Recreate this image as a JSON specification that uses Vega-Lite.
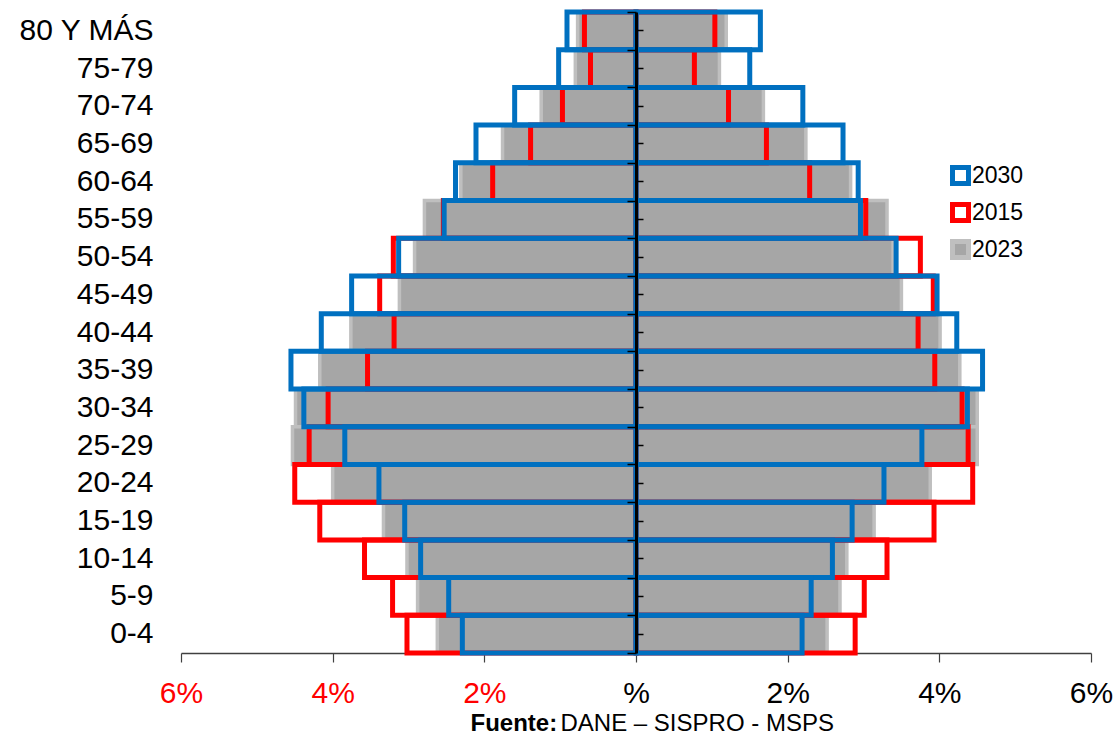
{
  "$schema": "https://vega.github.io/schema/vega-lite/v6.json",
  "width": 910,
  "height": 641,
  "autosize": {"type": "none"},
  "padding": {"left": 181, "top": 12, "right": 25, "bottom": 83},
  "background": "#FFFFFF",
  "data": {
    "values": [
      {"edad": "80 Y MÁS", "anio": "2023", "pct": -0.77}, {"edad": "80 Y MÁS", "anio": "2023", "pct": 1.19},
      {"edad": "75-79", "anio": "2023", "pct": -0.80}, {"edad": "75-79", "anio": "2023", "pct": 1.10},
      {"edad": "70-74", "anio": "2023", "pct": -1.25}, {"edad": "70-74", "anio": "2023", "pct": 1.68},
      {"edad": "65-69", "anio": "2023", "pct": -1.76}, {"edad": "65-69", "anio": "2023", "pct": 2.24},
      {"edad": "60-64", "anio": "2023", "pct": -2.31}, {"edad": "60-64", "anio": "2023", "pct": 2.83},
      {"edad": "55-59", "anio": "2023", "pct": -2.79}, {"edad": "55-59", "anio": "2023", "pct": 3.31},
      {"edad": "50-54", "anio": "2023", "pct": -2.92}, {"edad": "50-54", "anio": "2023", "pct": 3.39},
      {"edad": "45-49", "anio": "2023", "pct": -3.12}, {"edad": "45-49", "anio": "2023", "pct": 3.50},
      {"edad": "40-44", "anio": "2023", "pct": -3.76}, {"edad": "40-44", "anio": "2023", "pct": 4.01},
      {"edad": "35-39", "anio": "2023", "pct": -4.17}, {"edad": "35-39", "anio": "2023", "pct": 4.27},
      {"edad": "30-34", "anio": "2023", "pct": -4.49}, {"edad": "30-34", "anio": "2023", "pct": 4.50},
      {"edad": "25-29", "anio": "2023", "pct": -4.53}, {"edad": "25-29", "anio": "2023", "pct": 4.50},
      {"edad": "20-24", "anio": "2023", "pct": -4.00}, {"edad": "20-24", "anio": "2023", "pct": 3.88},
      {"edad": "15-19", "anio": "2023", "pct": -3.33}, {"edad": "15-19", "anio": "2023", "pct": 3.14},
      {"edad": "10-14", "anio": "2023", "pct": -3.02}, {"edad": "10-14", "anio": "2023", "pct": 2.78},
      {"edad": "5-9", "anio": "2023", "pct": -2.88}, {"edad": "5-9", "anio": "2023", "pct": 2.69},
      {"edad": "0-4", "anio": "2023", "pct": -2.62}, {"edad": "0-4", "anio": "2023", "pct": 2.52},

      {"edad": "80 Y MÁS", "anio": "2015", "pct": -0.68}, {"edad": "80 Y MÁS", "anio": "2015", "pct": 1.04},
      {"edad": "75-79", "anio": "2015", "pct": -0.60}, {"edad": "75-79", "anio": "2015", "pct": 0.77},
      {"edad": "70-74", "anio": "2015", "pct": -0.97}, {"edad": "70-74", "anio": "2015", "pct": 1.22},
      {"edad": "65-69", "anio": "2015", "pct": -1.39}, {"edad": "65-69", "anio": "2015", "pct": 1.72},
      {"edad": "60-64", "anio": "2015", "pct": -1.89}, {"edad": "60-64", "anio": "2015", "pct": 2.29},
      {"edad": "55-59", "anio": "2015", "pct": -2.54}, {"edad": "55-59", "anio": "2015", "pct": 3.03},
      {"edad": "50-54", "anio": "2015", "pct": -3.20}, {"edad": "50-54", "anio": "2015", "pct": 3.75},
      {"edad": "45-49", "anio": "2015", "pct": -3.38}, {"edad": "45-49", "anio": "2015", "pct": 3.92},
      {"edad": "40-44", "anio": "2015", "pct": -3.19}, {"edad": "40-44", "anio": "2015", "pct": 3.72},
      {"edad": "35-39", "anio": "2015", "pct": -3.54}, {"edad": "35-39", "anio": "2015", "pct": 3.94},
      {"edad": "30-34", "anio": "2015", "pct": -4.06}, {"edad": "30-34", "anio": "2015", "pct": 4.30},
      {"edad": "25-29", "anio": "2015", "pct": -4.31}, {"edad": "25-29", "anio": "2015", "pct": 4.38},
      {"edad": "20-24", "anio": "2015", "pct": -4.50}, {"edad": "20-24", "anio": "2015", "pct": 4.44},
      {"edad": "15-19", "anio": "2015", "pct": -4.17}, {"edad": "15-19", "anio": "2015", "pct": 3.93},
      {"edad": "10-14", "anio": "2015", "pct": -3.58}, {"edad": "10-14", "anio": "2015", "pct": 3.31},
      {"edad": "5-9", "anio": "2015", "pct": -3.21}, {"edad": "5-9", "anio": "2015", "pct": 3.01},
      {"edad": "0-4", "anio": "2015", "pct": -3.02}, {"edad": "0-4", "anio": "2015", "pct": 2.89},

      {"edad": "80 Y MÁS", "anio": "2030", "pct": -0.91}, {"edad": "80 Y MÁS", "anio": "2030", "pct": 1.64},
      {"edad": "75-79", "anio": "2030", "pct": -1.02}, {"edad": "75-79", "anio": "2030", "pct": 1.50},
      {"edad": "70-74", "anio": "2030", "pct": -1.60}, {"edad": "70-74", "anio": "2030", "pct": 2.20},
      {"edad": "65-69", "anio": "2030", "pct": -2.11}, {"edad": "65-69", "anio": "2030", "pct": 2.73},
      {"edad": "60-64", "anio": "2030", "pct": -2.38}, {"edad": "60-64", "anio": "2030", "pct": 2.93},
      {"edad": "55-59", "anio": "2030", "pct": -2.53}, {"edad": "55-59", "anio": "2030", "pct": 2.96},
      {"edad": "50-54", "anio": "2030", "pct": -3.13}, {"edad": "50-54", "anio": "2030", "pct": 3.43},
      {"edad": "45-49", "anio": "2030", "pct": -3.75}, {"edad": "45-49", "anio": "2030", "pct": 3.97},
      {"edad": "40-44", "anio": "2030", "pct": -4.15}, {"edad": "40-44", "anio": "2030", "pct": 4.23},
      {"edad": "35-39", "anio": "2030", "pct": -4.55}, {"edad": "35-39", "anio": "2030", "pct": 4.57},
      {"edad": "30-34", "anio": "2030", "pct": -4.38}, {"edad": "30-34", "anio": "2030", "pct": 4.37},
      {"edad": "25-29", "anio": "2030", "pct": -3.84}, {"edad": "25-29", "anio": "2030", "pct": 3.77},
      {"edad": "20-24", "anio": "2030", "pct": -3.39}, {"edad": "20-24", "anio": "2030", "pct": 3.27},
      {"edad": "15-19", "anio": "2030", "pct": -3.05}, {"edad": "15-19", "anio": "2030", "pct": 2.85},
      {"edad": "10-14", "anio": "2030", "pct": -2.84}, {"edad": "10-14", "anio": "2030", "pct": 2.59},
      {"edad": "5-9", "anio": "2030", "pct": -2.47}, {"edad": "5-9", "anio": "2030", "pct": 2.31},
      {"edad": "0-4", "anio": "2030", "pct": -2.29}, {"edad": "0-4", "anio": "2030", "pct": 2.19}
    ]
  },
  "resolve": {"axis": {"x": "independent", "y": "independent"}},
  "layer": [
    {
      "transform": [{"filter": "datum.anio == '2023'"}],
      "mark": {"type": "bar", "strokeWidth": 3.5, "strokeJoin": "miter"},
      "encoding": {
        "y": {
          "field": "edad", "type": "nominal",
          "scale": {"domain": ["80 Y MÁS", "75-79", "70-74", "65-69", "60-64", "55-59", "50-54", "45-49", "40-44", "35-39", "30-34", "25-29", "20-24", "15-19", "10-14", "5-9", "0-4"], "paddingInner": 0, "paddingOuter": 0},
          "axis": {"orient": "left", "title": null, "ticks": false, "domain": false, "grid": false, "labelPadding": 28, "labelFontSize": 30, "labelFont": "Liberation Sans", "labelColor": "#000000"}
        },
        "x": {
          "field": "pct", "type": "quantitative", "stack": null,
          "scale": {"domain": [-6, 6], "nice": false},
          "axis": {
            "orient": "bottom", "values": [-6, -4, -2, 0, 2, 4, 6],
            "labelExpr": "datum.value == 0 ? '%' : abs(datum.value) + '%'",
            "labelColor": {"condition": {"test": "datum.value < 0", "value": "#FF0000"}, "value": "#000000"},
            "labelFontSize": 30, "labelFont": "Liberation Sans", "labelPadding": 16,
            "labelFlush": false, "labelOverlap": false, "labelBound": false,
            "tickSize": 9, "tickColor": "#404040", "tickWidth": 1.2,
            "domainColor": "#404040", "domainWidth": 1.5, "grid": false,
            "title": "DANE – SISPRO - MSPS", "titleFont": "Liberation Sans", "titleFontSize": 24,
            "titleFontWeight": "normal", "titleColor": "#000000", "titleAlign": "left",
            "titleX": 379, "titleY": 77, "titleBaseline": "alphabetic"
          }
        },
        "stroke": {"field": "anio", "type": "nominal", "scale": {"domain": ["2030", "2015", "2023"], "range": ["#0070C0", "#FF0000", "#BFBFBF"]}, "legend": {"title": null}},
        "fill": {"field": "anio", "type": "nominal", "scale": {"domain": ["2030", "2015", "2023"], "range": ["transparent", "transparent", "#A6A6A6"]}, "legend": {"title": null}}
      }
    },
    {
      "transform": [{"filter": "datum.anio == '2015'"}],
      "mark": {"type": "bar", "strokeWidth": 5, "strokeJoin": "miter"},
      "encoding": {
        "y": {
          "field": "edad", "type": "nominal",
          "axis": {"orient": "left", "offset": -455, "labels": false, "title": null, "grid": false, "domain": true, "domainColor": "#000000", "domainWidth": 3, "ticks": true, "tickBand": "extent", "tickSize": 9, "tickColor": "#000000", "tickWidth": 1.5, "zindex": 1}
        },
        "x": {
          "field": "pct", "type": "quantitative", "stack": null,
          "axis": {"orient": "bottom", "labels": false, "ticks": false, "domain": false, "grid": false, "title": "Fuente:", "titleFont": "Liberation Sans", "titleFontSize": 24, "titleFontWeight": "bold", "titleColor": "#000000", "titleAlign": "left", "titleX": 289, "titleY": 77, "titleBaseline": "alphabetic"}
        },
        "stroke": {"field": "anio", "type": "nominal", "legend": {"title": null}},
        "fill": {"field": "anio", "type": "nominal", "legend": {"title": null}}
      }
    },
    {
      "transform": [{"filter": "datum.anio == '2030'"}],
      "mark": {"type": "bar", "strokeWidth": 5, "strokeJoin": "miter"},
      "encoding": {
        "y": {
          "field": "edad", "type": "nominal",
          "axis": {"orient": "right", "offset": -455, "labels": false, "title": null, "grid": false, "domain": false, "ticks": true, "tickSize": 7, "tickColor": "#000000", "tickWidth": 1.5, "zindex": 1}
        },
        "x": {"field": "pct", "type": "quantitative", "stack": null, "axis": null},
        "stroke": {"field": "anio", "type": "nominal", "legend": {"title": null}},
        "fill": {"field": "anio", "type": "nominal", "legend": {"title": null}}
      }
    }
  ],
  "config": {
    "view": {"stroke": null},
    "legend": {
      "orient": "none", "legendX": 768, "legendY": 152, "padding": 0,
      "symbolType": "square", "symbolSize": 256, "symbolStrokeWidth": 5,
      "labelFontSize": 23, "labelFont": "Liberation Sans", "labelColor": "#000000",
      "labelOffset": 0, "rowPadding": 0
    }
  }
}
